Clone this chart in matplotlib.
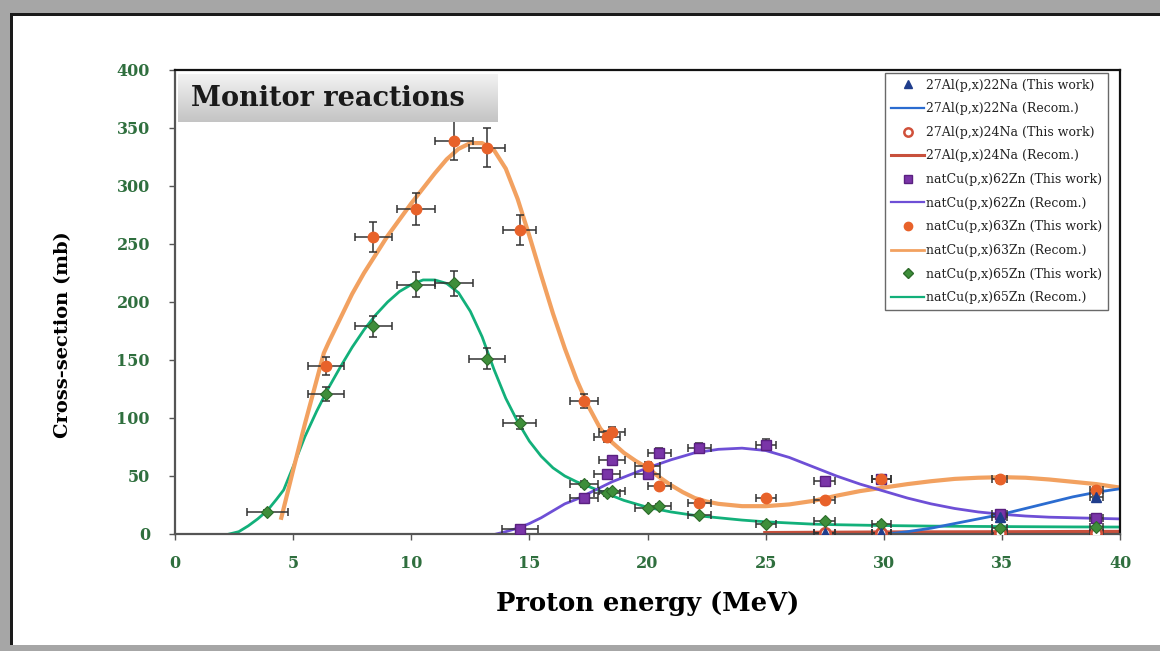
import numpy as np
import matplotlib
matplotlib.use("Agg")
import matplotlib.pyplot as plt
from matplotlib.lines import Line2D
from matplotlib.patches import Rectangle

# ---------------- data ----------------
# 27Al(p,x)22Na  (This work)
na22_x = [27.5, 29.9, 34.9, 39.0]
na22_y = [0.5, 1.0, 15.0, 32.0]
na22_xerr = [0.45, 0.4, 0.32, 0.28]
na22_yerr = [0.3, 0.3, 1.0, 2.0]
# 27Al(p,x)22Na  (Recom.)
na22_rec_x = [29.8, 30.5, 31, 32, 33, 34, 35, 36, 37, 38, 39, 40]
na22_rec_y = [0, 0.8, 2, 5, 9, 13, 17, 22, 27, 32, 36, 39]

# 27Al(p,x)24Na  (This work)
na24_x = [27.5, 29.9, 34.9, 39.0]
na24_y = [0.5, 0.8, 1.0, 1.0]
na24_xerr = [0.45, 0.4, 0.32, 0.28]
na24_yerr = [0.3, 0.3, 0.3, 0.3]
# 27Al(p,x)24Na  (Recom.)
na24_rec_x = [25, 30, 35, 40]
na24_rec_y = [0.5, 1.0, 1.2, 1.5]

# natCu(p,x)62Zn (This work)
zn62_x = [14.6, 17.3, 18.3, 18.5, 20.0, 20.5, 22.2, 25.0, 27.5, 29.9, 34.9, 39.0]
zn62_y = [4.5, 31, 52, 64, 52, 70, 74, 77, 46, 47, 17, 14]
zn62_xerr = [0.75, 0.6, 0.55, 0.55, 0.55, 0.5, 0.5, 0.42, 0.45, 0.4, 0.32, 0.28]
zn62_yerr = [1.0, 2.5, 3.0, 3.5, 3.0, 4.0, 4.5, 4.5, 3.0, 3.0, 1.5, 1.2]
# natCu(p,x)62Zn (Recom.)
zn62_rec_x = [13.6, 14.0, 14.5, 15.0, 15.5, 16.0, 16.5, 17.0, 17.5, 18.0, 18.5, 19.0,
              19.5, 20.0, 21, 22, 23, 24, 25, 26, 27, 28, 29, 30, 31, 32, 33, 34,
              35, 36, 37, 38, 39, 40]
zn62_rec_y = [0, 2, 5, 9, 14, 20, 26, 30, 35, 40, 45, 49,
              53, 57, 64, 70, 73, 74, 72, 66, 58, 50, 43, 37, 31, 26, 22, 19,
              17, 15.5, 14.5, 14, 13.5, 13]

# natCu(p,x)63Zn (This work)
zn63_x = [6.4, 8.4, 10.2, 11.8, 13.2, 14.6, 17.3, 18.3, 18.5, 20.0, 20.5, 22.2,
          25.0, 27.5, 29.9, 34.9, 39.0]
zn63_y = [145, 256, 280, 339, 333, 262, 115, 84, 88, 59, 41, 27,
          31, 29, 47, 47, 38]
zn63_xerr = [0.75, 0.8, 0.8, 0.8, 0.75, 0.7, 0.6, 0.55, 0.55, 0.55, 0.5, 0.5,
             0.42, 0.45, 0.4, 0.32, 0.28]
zn63_yerr = [8, 13, 14, 17, 17, 13, 6, 4.5, 4.5, 3.5, 2.5, 2,
             2, 2, 3, 3, 2.5]
# natCu(p,x)63Zn (Recom.)
zn63_rec_x = [4.5, 5.0, 5.5, 6.0, 6.3, 6.5, 7.0, 7.5, 8.0, 8.5, 9.0, 9.5, 10.0,
              10.5, 11.0, 11.5, 12.0, 12.5, 13.0, 13.5, 14.0, 14.5, 15.0, 15.5,
              16.0, 16.5, 17.0, 17.5, 18.0, 18.5, 19.0, 19.5, 20.0, 20.5, 21.0,
              21.5, 22.0, 22.5, 23, 24, 25, 26, 27, 28, 29, 30, 31, 32, 33, 34,
              35, 36, 37, 38, 39, 40]
zn63_rec_y = [14, 55, 95, 133, 156, 165, 186, 207, 225, 241, 257, 271, 285,
              298, 311, 323, 332, 337, 337, 331, 315, 289, 257, 223,
              190, 160, 133, 110, 91, 79, 70, 63, 57, 49, 42,
              36, 31, 28, 26, 24, 24, 25.5, 28.5, 33, 37, 40, 43, 45.5, 47.5, 48.5,
              49, 48.5, 47, 45, 43, 40]

# natCu(p,x)65Zn (This work)
zn65_x = [3.9, 6.4, 8.4, 10.2, 11.8, 13.2, 14.6, 17.3, 18.3, 18.5, 20.0, 20.5,
          22.2, 25.0, 27.5, 29.9, 34.9, 39.0]
zn65_y = [19, 121, 179, 215, 216, 151, 96, 43, 35, 37, 22, 24,
          16, 9, 11, 9, 5, 6]
zn65_xerr = [0.87, 0.76, 0.8, 0.8, 0.8, 0.75, 0.7, 0.6, 0.55, 0.55, 0.55, 0.5,
             0.5, 0.42, 0.45, 0.4, 0.32, 0.28]
zn65_yerr = [1.5, 6, 9, 11, 11, 9, 5.5, 2.5, 2, 2, 1.5, 1.5,
             1.2, 1, 1, 1, 0.8, 0.8]
# natCu(p,x)65Zn (Recom.)
zn65_rec_x = [2.3, 2.7, 3.1, 3.5, 3.9, 4.3, 4.6, 5.0, 5.5, 6.0, 6.5, 7.0, 7.5,
              8.0, 8.5, 9.0, 9.5, 10.0, 10.5, 11.0, 11.5, 12.0, 12.5, 13.0,
              13.5, 14.0, 14.5, 15.0, 15.5, 16.0, 16.5, 17.0, 17.5, 18.0, 18.5,
              19.0, 19.5, 20.0, 21, 22, 23, 24, 25, 26, 27, 28, 30, 32, 34, 36,
              38, 40]
zn65_rec_y = [0, 2, 7, 13, 20, 30, 38, 58, 84, 106, 126, 144, 161,
              176, 189, 200, 209, 215, 219, 219, 216, 208, 192, 170,
              142, 117, 97, 80, 67, 57, 50, 45, 41, 37, 33,
              29, 26, 23, 19, 16, 14, 12, 10.5, 9.5, 8.5, 8, 7.3, 6.8, 6.5, 6.3,
              6.1, 6]

x_ticks = [0, 5, 10, 15, 20, 25, 30, 35, 40]
y_ticks = [0, 50, 100, 150, 200, 250, 300, 350, 400]

labels = ["27Al(p,x)22Na (This work)", "27Al(p,x)22Na (Recom.)",
          "27Al(p,x)24Na (This work)", "27Al(p,x)24Na (Recom.)",
          "natCu(p,x)62Zn (This work)", "natCu(p,x)62Zn (Recom.)",
          "natCu(p,x)63Zn (This work)", "natCu(p,x)63Zn (Recom.)",
          "natCu(p,x)65Zn (This work)", "natCu(p,x)65Zn (Recom.)"]

# ---------------- style ----------------
SERIF = ["DejaVu Serif", "Liberation Serif"]
plt.rcParams["font.family"] = SERIF

c_blue_m, c_blue_l = "#1F3D8C", "#2B6CD0"
c_red_m, c_red_l = "#D0503A", "#C8503C"
c_pur_m, c_pur_l = "#7A35A8", "#6E4FD6"
c_org_m, c_org_l = "#E8622A", "#F2A160"
c_grn_m, c_grn_l = "#3E8E3A", "#12B07A"
tick_green = "#2F6F3E"

W, H = 1160, 651
fig = plt.figure(figsize=(W / 100, H / 100), dpi=100)
fig.patch.set_facecolor("white")

def fig_rect(x0, y0, x1, y1, color, z=0):
    # pixel coords (top-left origin) -> figure fraction
    fig.add_artist(Rectangle((x0 / W, 1 - y1 / H), (x1 - x0) / W, (y1 - y0) / H,
                             transform=fig.transFigure, facecolor=color,
                             edgecolor="none", zorder=z))

# figure border: gray bands top/left/bottom, black inner line top/left
fig_rect(0, 0, W, 13, "#A6A6A6")
fig_rect(0, 0, 10, H, "#A6A6A6")
fig_rect(0, 645, W, H, "#A6A6A6")
fig_rect(10, 13, W, 16, "#1A1A1A")
fig_rect(10, 13, 13, 645, "#1A1A1A")

ax = fig.add_axes([175 / W, 1 - 534 / H, (1120 - 175) / W, (534 - 70) / H])
ax.set_xlim(0, 40)
ax.set_ylim(0, 400)

ebkw = dict(fmt="none", ecolor="#333333", elinewidth=1.1, capsize=2.8,
            capthick=1.1, zorder=3)

# Recom. curves
ax.plot(zn65_rec_x, zn65_rec_y, color=c_grn_l, lw=2.0, zorder=2)
ax.plot(zn63_rec_x, zn63_rec_y, color=c_org_l, lw=3.0, zorder=2)
ax.plot(zn62_rec_x, zn62_rec_y, color=c_pur_l, lw=2.0, zorder=2)
ax.plot(na24_rec_x, na24_rec_y, color=c_red_l, lw=3.5, zorder=2)
ax.plot(na22_rec_x, na22_rec_y, color=c_blue_l, lw=2.0, zorder=2)

# error bars
for xs, ys, xe, ye in [(zn62_x, zn62_y, zn62_xerr, zn62_yerr),
                       (zn63_x, zn63_y, zn63_xerr, zn63_yerr),
                       (zn65_x, zn65_y, zn65_xerr, zn65_yerr),
                       (na24_x, na24_y, na24_xerr, na24_yerr),
                       (na22_x, na22_y, na22_xerr, na22_yerr)]:
    ax.errorbar(xs, ys, xerr=xe, yerr=ye, **ebkw)

# markers
ax.plot(na24_x, na24_y, ls="none", marker="o", ms=7.5, mfc="white",
        mec=c_red_m, mew=2.0, zorder=4)
ax.plot(zn62_x, zn62_y, ls="none", marker="s", ms=7.5, mfc=c_pur_m,
        mec="#5A2080", mew=1.0, zorder=4)
ax.plot(zn63_x, zn63_y, ls="none", marker="o", ms=7.5, mfc=c_org_m,
        mec=c_org_m, zorder=5)
ax.plot(zn65_x, zn65_y, ls="none", marker="D", ms=6.0, mfc=c_grn_m,
        mec="#2D6B2A", mew=0.8, zorder=5)
ax.plot(na22_x, na22_y, ls="none", marker="^", ms=7.0, mfc=c_blue_m,
        mec=c_blue_m, zorder=6)

# axes styling
for s in ["top", "right"]:
    ax.spines[s].set_color("#111111")
    ax.spines[s].set_linewidth(1.6)
for s in ["left", "bottom"]:
    ax.spines[s].set_color("#555555")
    ax.spines[s].set_linewidth(1.6)
ax.set_xticks(x_ticks)
ax.set_yticks(y_ticks)
ax.tick_params(axis="both", direction="out", length=4, width=1, color="#555555",
               labelcolor=tick_green, labelsize=11.5)
ax.tick_params(axis="x", pad=11)
ax.tick_params(axis="y", pad=14)
for t in ax.get_xticklabels() + ax.get_yticklabels():
    t.set_fontweight("bold")
ax.tick_params(top=False, right=False)

ax.set_xlabel("Proton energy (MeV)", fontsize=18.5, fontweight="bold", labelpad=14)
ax.set_ylabel("Cross-section (mb)", fontsize=14, fontweight="bold")
ax.yaxis.set_label_coords(-0.109, 0.43)

# legend
handles = [
    Line2D([], [], ls="none", marker="^", ms=6, mfc=c_blue_m, mec=c_blue_m),
    Line2D([], [], color=c_blue_l, lw=1.6),
    Line2D([], [], ls="none", marker="o", ms=6, mfc="white", mec=c_red_m, mew=1.8),
    Line2D([], [], color=c_red_l, lw=2.2),
    Line2D([], [], ls="none", marker="s", ms=6, mfc=c_pur_m, mec="#5A2080"),
    Line2D([], [], color=c_pur_l, lw=1.6),
    Line2D([], [], ls="none", marker="o", ms=6, mfc=c_org_m, mec=c_org_m),
    Line2D([], [], color=c_org_l, lw=2.0),
    Line2D([], [], ls="none", marker="D", ms=5, mfc=c_grn_m, mec="#2D6B2A"),
    Line2D([], [], color=c_grn_l, lw=1.6),
]
leg = ax.legend(handles, labels, loc="upper right",
                bbox_to_anchor=((1108 - 175) / (1120 - 175), 1 - 3 / 464),
                fontsize=9.0, frameon=True, fancybox=False, handlelength=2.7,
                handletextpad=0.15, labelspacing=0.85, borderpad=0.45,
                borderaxespad=0)
leg.get_frame().set_edgecolor("#444444")
leg.get_frame().set_linewidth(1.0)
for t in leg.get_texts():
    t.set_color("#222222")

# title box with gradient
tax = fig.add_axes([178 / W, 1 - 122 / H, (497 - 178) / W, (122 - 74) / H])
grad = np.linspace(0, 1, 64).reshape(-1, 1)
tax.imshow(grad, aspect="auto", cmap=matplotlib.colors.LinearSegmentedColormap.from_list(
    "g", ["#F2F2F2", "#C4C4C4"]), extent=[0, 1, 0, 1], origin="upper")
tax.set_xticks([])
tax.set_yticks([])
for s in tax.spines.values():
    s.set_visible(False)
tax.text(0.04, 0.5, "Monitor reactions", fontsize=19.5, fontweight="bold",
         color="#1A1A1A", va="center", ha="left", transform=tax.transAxes,
         family=SERIF)

fig.savefig("out.png", dpi=100)
